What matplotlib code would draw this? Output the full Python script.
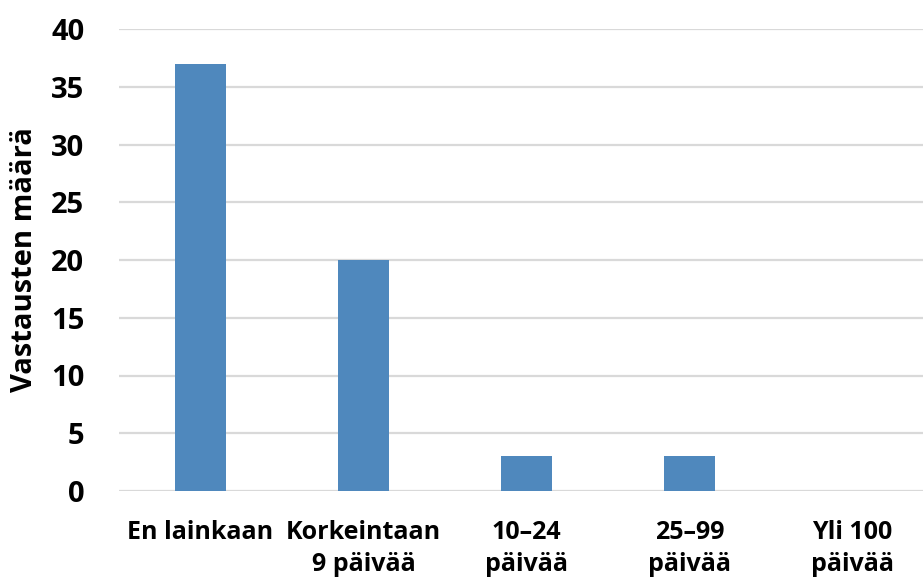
import matplotlib
matplotlib.use("Agg")
import matplotlib.pyplot as plt

categories = ["En lainkaan", "Korkeintaan\n9 päivää", "10–24\npäivää", "25–99\npäivää", "Yli 100\npäivää"]
values = [37, 20, 3, 3, 0]
y_ticks = [0, 5, 10, 15, 20, 25, 30, 35, 40]
y_label = "Vastausten määrä"

plt.rcParams["font.family"] = ["Open Sans", "DejaVu Sans"]

W, H = 923, 580
fig = plt.figure(figsize=(W / 100, H / 100), dpi=100)
left, right, bottom, top = 119, 934, 491, 29
ax = fig.add_axes([left / W, (H - bottom) / H, (right - left) / W, (bottom - top) / H])

x = list(range(len(categories)))
ax.bar(x, values, width=0.315, color="#4F88BD", zorder=3)

ax.set_xlim(-0.5, len(categories) - 0.5)
ax.set_ylim(0, 40)
ax.set_yticks(y_ticks)
ax.yaxis.grid(True, color="#D9D9D9", linewidth=1.6, zorder=0)
ax.set_axisbelow(True)
for s in ax.spines.values():
    s.set_visible(False)

ax.tick_params(axis="y", length=0, pad=25, labelsize=21)
ax.tick_params(axis="x", length=0, pad=21, labelsize=18)
for lab in ax.get_yticklabels():
    lab.set_fontweight("bold")
ax.set_xticks(x)
ax.set_xticklabels(categories, fontweight="bold", linespacing=1.35)

ax.set_ylabel(y_label, fontsize=21, fontweight="bold")
ax.yaxis.set_label_coords(-80 / (right - left), 0.5)

fig.savefig("out.png", dpi=100)
